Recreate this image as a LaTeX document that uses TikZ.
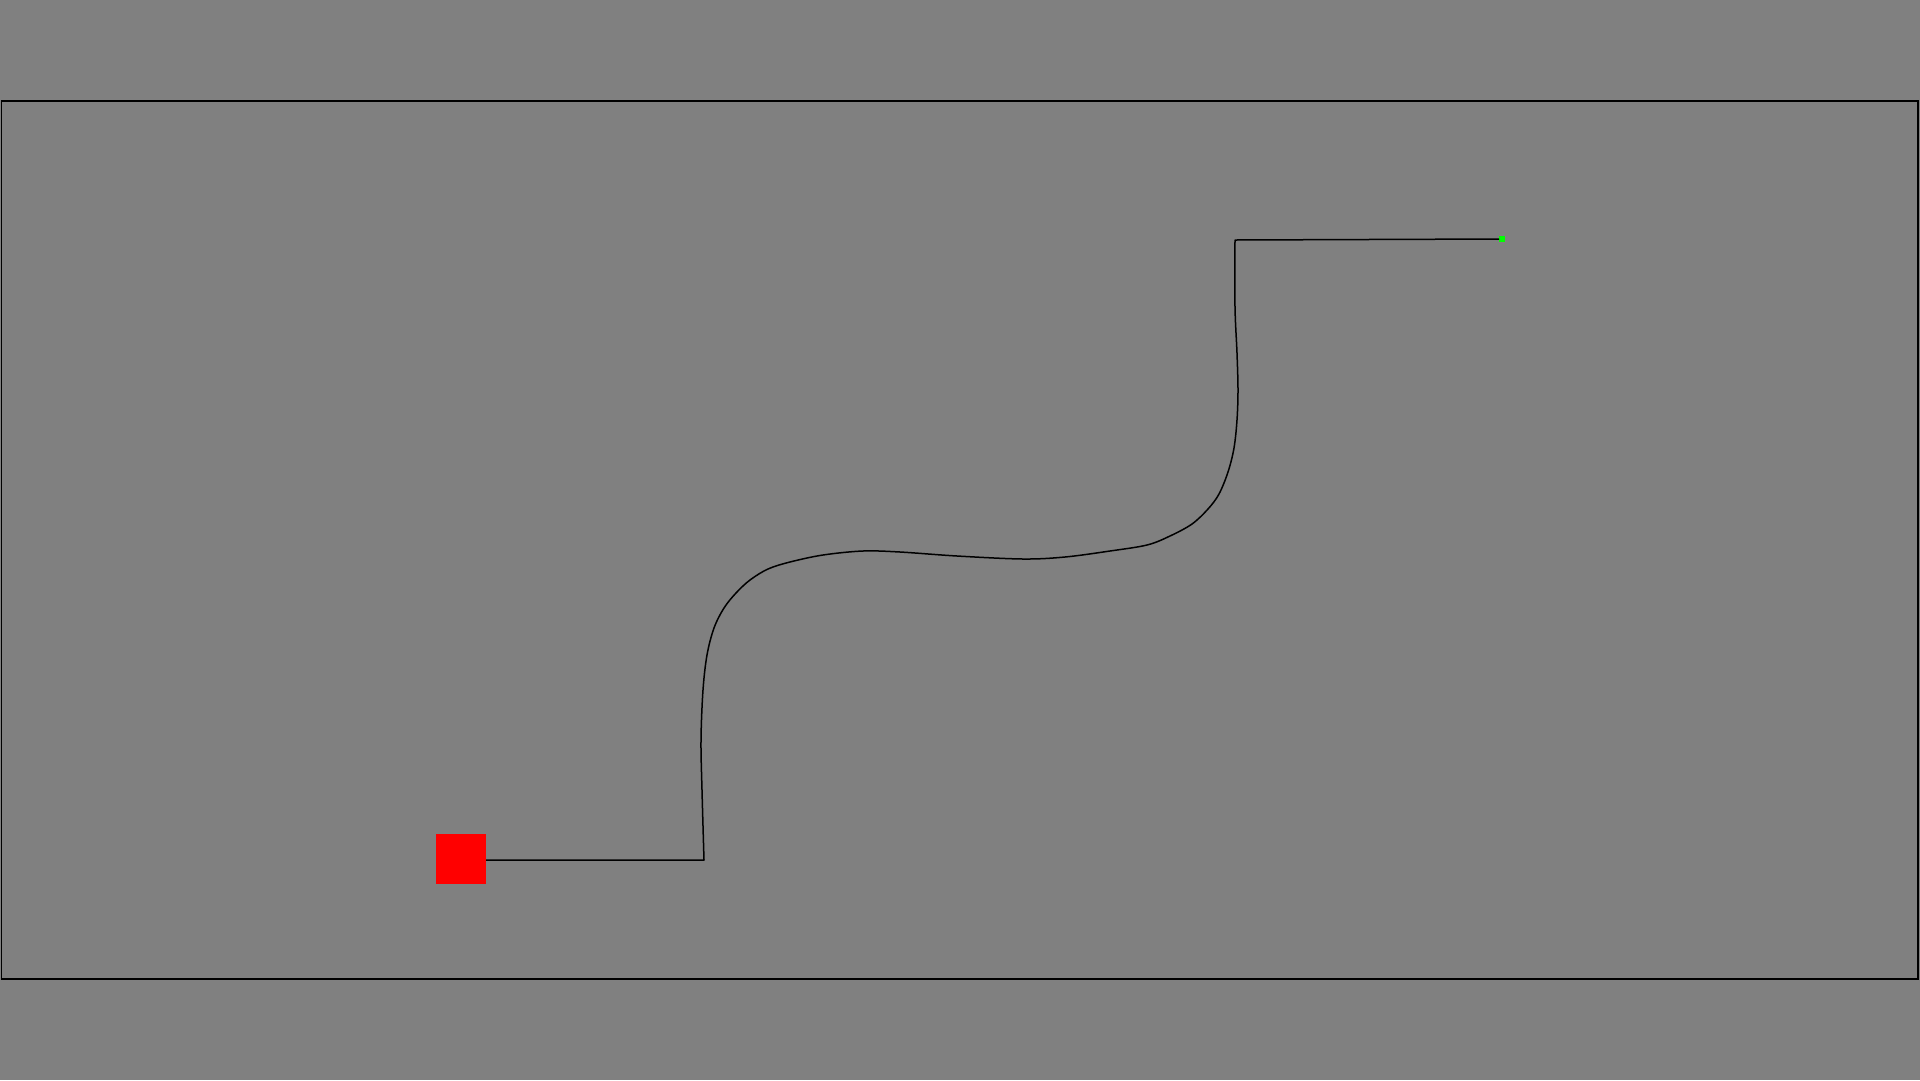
\documentclass[tikz,border=0pt]{standalone}
\definecolor{bg}{RGB}{128,128,128}
\definecolor{purered}{RGB}{255,0,0}
\definecolor{puregreen}{RGB}{0,255,0}
\tikzset{
  frame/.style={draw=black, line width=1.5pt},
  pathline/.style={draw=black, line width=1.5pt, line join=round},
  startbox/.style={fill=purered, draw=none, minimum size=50pt, inner sep=0pt, outer sep=0pt},
  goaldot/.style={fill=puregreen, draw=none, minimum size=6pt, inner sep=0pt, outer sep=0pt}
}
\begin{document}
\begin{tikzpicture}[x=1pt, y=-1pt]
  \fill[bg] (0,0) rectangle (1920,1080);
  \useasboundingbox (0,0) rectangle (1920,1080);
  \draw[frame] (1.5,101) rectangle (1918,979);
  \node[startbox] (start) at (461,859) {};
  \node[goaldot] (goal) at (1502,239) {};
  \coordinate (c1) at (704,860);
  \coordinate (c2) at (1235,240);
  \draw[pathline] (start.east |- c1) -- (c1)
    -- plot[smooth, tension=0.55] coordinates {(704,860) (702,790) (701,740) (703,690) (707,655) (714,628) (724,608) (736,593) (750,580) (768,569) (790,562) (823,555) (863,551) (900,552) (957,556) (1023,559) (1065,557) (1110,551) (1147,545) (1170,536) (1192,524) (1208,509) (1219,494) (1228,472) (1234,448) (1237,420) (1238,390) (1237,353) (1235,307) (1235,240)}
    -- (c2) -- (goal.west);
\end{tikzpicture}
\end{document}
